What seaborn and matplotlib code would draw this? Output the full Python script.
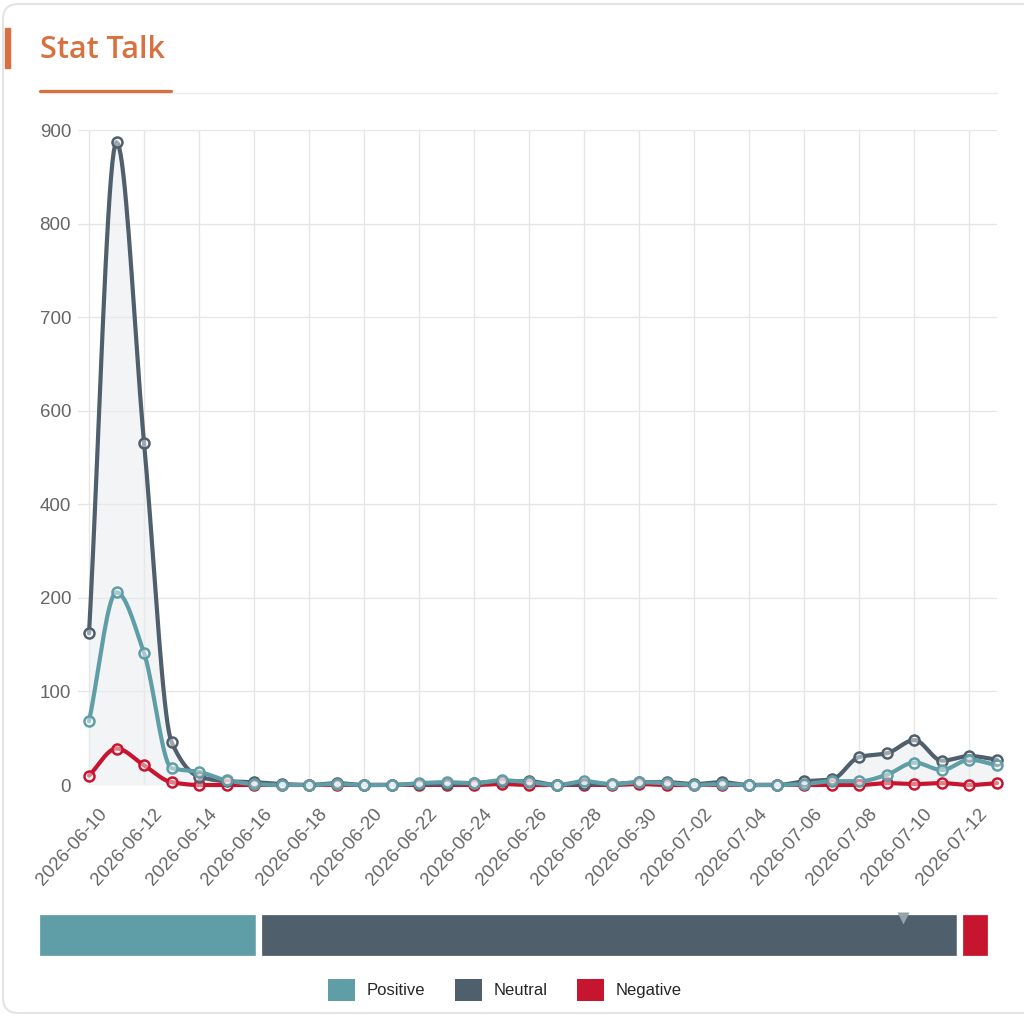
import numpy as np
import pandas as pd
import matplotlib
matplotlib.use("Agg")
import matplotlib.pyplot as plt
import matplotlib.dates as mdates
import matplotlib.transforms as mtransforms
from matplotlib.patches import Patch, Rectangle, FancyBboxPatch
from matplotlib.lines import Line2D
import seaborn as sns

# ---- data ----
dates = pd.date_range("2026-06-10", "2026-07-13", freq="D")
neutral = [162, 887, 532, 46, 9, 4, 3, 1, 0, 2, 0, 0, 1, 1, 2, 4, 4, 0,
           1, 1, 3, 3, 1, 3, 0, 0, 4, 6, 30, 34, 48, 26, 31, 27]
positive = [68, 212, 141, 18, 14, 5, 1, 0, 0, 1, 0, 0, 2, 3, 2, 5, 3, 0,
            4, 1, 3, 2, 0, 1, 0, 0, 1, 4, 4, 11, 24, 16, 27, 21]
negative = [10, 39, 21, 3, 0, 0, 0, 0, 0, 0, 0, 0, 0, 0, 0, 1, 0, 0,
            0, 0, 1, 0, 0, 0, 0, 0, 0, 0, 0, 2, 1, 2, 0, 2]
series_names = ["Positive", "Neutral", "Negative"]
ytick_vals = [0, 100, 200, 400, 600, 700, 800, 900]

colors = {"Positive": "#5f9ea7", "Neutral": "#4f5f6b", "Negative": "#c8152f"}
ORANGE = "#d9703f"
GRID = "#e6e6e6"
LABEL = "#666666"

# the y axis in the reference places its labels evenly, so use a piecewise scale
tick_pos = np.arange(len(ytick_vals), dtype=float)


def fwd(v):
    v = np.asarray(v, dtype=float)
    out = np.interp(v, ytick_vals, tick_pos)
    out = np.where(v < 0, v / 100.0, out)
    out = np.where(v > 900, 7 + (v - 900) / 100.0, out)
    return out


def inv(p):
    p = np.asarray(p, dtype=float)
    out = np.interp(p, tick_pos, ytick_vals)
    out = np.where(p < 0, p * 100.0, out)
    out = np.where(p > 7, 900 + (p - 7) * 100.0, out)
    return out


def smooth(vals, per=20):
    # monotone cubic (fritsch-carlson style) through the points, in screen space
    p = fwd(vals)
    d = np.diff(p)
    m = np.zeros_like(p)
    m[0], m[-1] = d[0], d[-1]
    for i in range(1, len(p) - 1):
        if d[i - 1] * d[i] > 0:
            m[i] = 2.0 / (1.0 / d[i - 1] + 1.0 / d[i])
    t = np.linspace(0, 1, per, endpoint=False)
    h00 = 2 * t**3 - 3 * t**2 + 1
    h10 = t**3 - 2 * t**2 + t
    h01 = -2 * t**3 + 3 * t**2
    h11 = t**3 - t**2
    xs, ys = [], []
    for i in range(len(p) - 1):
        xs.append(i + t)
        ys.append(h00 * p[i] + h10 * m[i] + h01 * p[i + 1] + h11 * m[i + 1])
    xs.append([len(p) - 1])
    ys.append([p[-1]])
    xs = np.concatenate(xs)
    ys = np.concatenate(ys)
    return dates[0] + pd.to_timedelta(xs, unit="D"), inv(ys)


df = pd.DataFrame({"date": dates, "Positive": positive,
                   "Neutral": neutral, "Negative": negative})
long = df.melt(id_vars="date", var_name="sentiment", value_name="count")

sns.set_theme(style="whitegrid")
plt.rcParams["font.family"] = ["Liberation Sans", "DejaVu Sans"]

W, H = 1024, 1022
fig = plt.figure(figsize=(W / 100, H / 100), dpi=100)
fig.patch.set_facecolor("white")

# card frame + header
fig.patches.append(FancyBboxPatch((3 / W, 1 - 1013 / H), 1.2, 1009 / H,
                                  boxstyle="round,pad=0,rounding_size=0.015",
                                  transform=fig.transFigure, fc="none",
                                  ec="#e4e4e4", lw=1.5, zorder=-5))
fig.patches.append(Rectangle((5 / W, 1 - 68 / H), 5 / W, 40 / H,
                             transform=fig.transFigure, color=ORANGE, zorder=2))
fig.text(40 / W, 1 - 50 / H, "Stat Talk", color=ORANGE, fontsize=22,
         fontweight="semibold", family=["Open Sans", "DejaVu Sans"], va="center")
fig.lines.append(Line2D([40 / W, 997 / W], [1 - 93 / H, 1 - 93 / H],
                        transform=fig.transFigure, color="#ececec", lw=1))
fig.lines.append(Line2D([40 / W, 171 / W], [1 - 91 / H, 1 - 91 / H],
                        transform=fig.transFigure, color=ORANGE, lw=2.3))

# ---- main line chart ----
ax = fig.add_axes([78 / W, 1 - 785 / H, (997 - 78) / W, (785 - 130) / H])
ax.set_facecolor("none")
ax.set_zorder(3)
ax.set_yscale("function", functions=(fwd, inv))

# light fill under the neutral curve
nx, ny = smooth(neutral)
ax.fill_between(nx, ny, 0, color="#e9ebee", alpha=0.55, lw=0, zorder=1)

for name in ["Negative", "Neutral", "Positive"]:
    sx, sy = smooth(df[name].values)
    sm = pd.DataFrame({"date": sx, "count": sy})
    sns.lineplot(data=sm, x="date", y="count", ax=ax, color=colors[name],
                 lw=3.0, sort=False, estimator=None, zorder=3, clip_on=False)
    sub = long[long["sentiment"] == name]
    sns.scatterplot(data=sub, x="date", y="count", ax=ax, color=colors[name],
                    s=52, linewidth=1.8, zorder=4, clip_on=False, legend=False)
    ax.collections[-1].set_facecolor((1, 1, 1, 0.45))
    ax.collections[-1].set_edgecolor(colors[name])

ax.set_ylim(0, 900)
ax.set_xlim(dates[0] - pd.Timedelta(days=0.4), dates[-1])
ax.set_yticks(ytick_vals)
ax.set_yticklabels([str(v) for v in ytick_vals])
ax.set_xticks(dates[::2])
ax.xaxis.set_major_formatter(mdates.DateFormatter("%Y-%m-%d"))
ax.tick_params(axis="y", labelsize=13.5, labelcolor=LABEL, length=0, pad=5)
ax.tick_params(axis="x", labelsize=13.5, labelcolor=LABEL, length=0, pad=8)
ax.grid(True, color=GRID, lw=1)
ax.set_xlabel("")
ax.set_ylabel("")
for sp in ax.spines.values():
    sp.set_visible(False)
if ax.get_legend():
    ax.get_legend().remove()

shift = mtransforms.ScaledTranslation(9 / 100, -9 / 100, fig.dpi_scale_trans)
for lab in ax.get_xticklabels():
    lab.set_rotation(48)
    lab.set_ha("right")
    lab.set_rotation_mode("anchor")
    lab.set_transform(lab.get_transform() + shift)

# ---- share bar ----
totals = [sum(positive), sum(neutral), sum(negative)]
shares = np.array(totals) / sum(totals)
bx = fig.add_axes([37 / W, 1 - 959 / H, (991 - 37) / W, 47 / H])
bx.set_zorder(3)
left = 0.0
for name, sh in zip(series_names, shares):
    bx.barh(0, sh, left=left, height=1.0, color=colors[name],
            edgecolor="white", linewidth=4.5)
    left += sh
bx.plot([0.908], [0.38], marker="v", ms=8, color="#95a2ac", mec="none")
bx.set_xlim(0, 1)
bx.set_ylim(-0.5, 0.5)
bx.axis("off")

handles = [Patch(facecolor=colors[n], edgecolor="none") for n in series_names]
fig.legend(handles, series_names, loc="center", ncol=3,
           bbox_to_anchor=(505 / W, 1 - 990 / H), frameon=False,
           prop={"family": ["Liberation Sans Narrow", "Liberation Sans"], "size": 12},
           handlelength=1.6, handleheight=1.6, handletextpad=0.7,
           columnspacing=1.8)

fig.savefig("out.png", dpi=100, facecolor="white")
